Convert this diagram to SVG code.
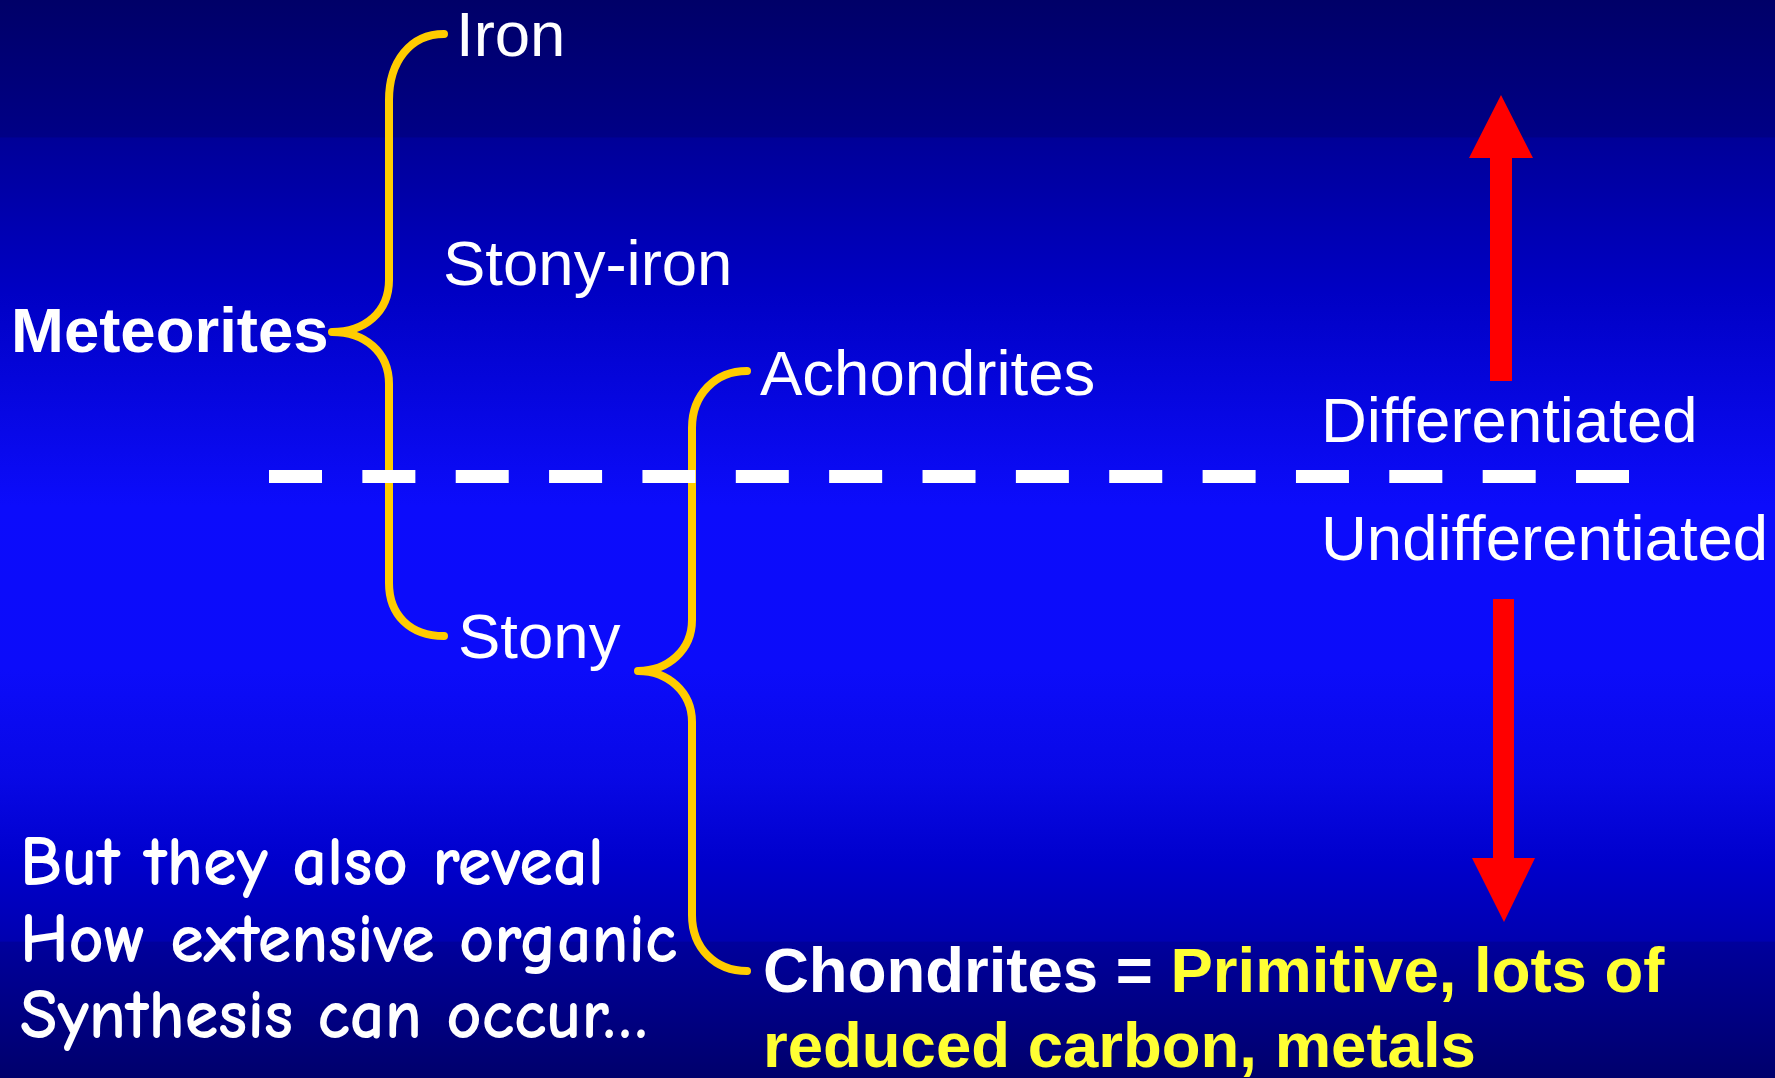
<svg xmlns="http://www.w3.org/2000/svg" width="1775" height="1078" viewBox="0 0 1775 1078">
  <defs>
    <linearGradient id="bg" x1="0" y1="0" x2="0" y2="1">
      <stop offset="0" stop-color="#000068"/>
      <stop offset="0.127" stop-color="#000086"/>
      <stop offset="0.128" stop-color="#000098"/>
      <stop offset="0.27" stop-color="#0000c4"/>
      <stop offset="0.40" stop-color="#0808e8"/>
      <stop offset="0.47" stop-color="#0c0cfc"/>
      <stop offset="0.62" stop-color="#0c0cfa"/>
      <stop offset="0.72" stop-color="#0808e6"/>
      <stop offset="0.80" stop-color="#0000cc"/>
      <stop offset="0.873" stop-color="#0000b0"/>
      <stop offset="0.874" stop-color="#00009c"/>
      <stop offset="1" stop-color="#00006c"/>
    </linearGradient>
  </defs>
  <style>
    .t { font-family: "Liberation Sans", Arial, sans-serif; font-size: 63.5px; fill: #ffffff; }
    .b { font-weight: bold; }
    .y { fill: #ffff33; }
    .c { font-family: "Comic Sans MS", "Comic Neue", "DejaVu Sans", sans-serif; font-size: 70px; font-weight: bold; fill: #ffffff; }
    .brace { fill: none; stroke: #ffcc00; stroke-width: 8; stroke-linecap: round; stroke-linejoin: round; }
    .dash { fill: none; stroke: #ffffff; stroke-width: 13; stroke-dasharray: 53 40.36; }
    .arrow { fill: #ff0000; }
  </style>
  <rect x="0" y="0" width="1775" height="1078" fill="url(#bg)"/>

  <g id="connectors">
    <path class="brace" d="M444,34 C410,34 389,62 389,100 L389,280 C389,312 365,332 332,332 C365,332 389,352 389,384 L389,583 C389,615 410,636 444,636"/>
    <path class="brace" d="M747,371 C715,371 692,395 692,428 L692,620 C692,650 668,671 638,671 C668,671 692,692 692,722 L692,915 C692,948 715,971 747,971"/>
    <line class="dash" x1="269" y1="476.5" x2="1629" y2="476.5"/>
    <polygon class="arrow" points="1501,95 1533,158 1512,158 1512,381 1490,381 1490,158 1469,158"/>
    <polygon class="arrow" points="1504,922 1535,858 1514,858 1514,599 1493,599 1493,858 1472,858"/>
  </g>

  <g id="node-meteorites"><text class="t b" x="11" y="352">Meteorites</text></g>
  <g id="node-iron"><text class="t" x="456" y="56">Iron</text></g>
  <g id="node-stony-iron"><text class="t" x="443" y="285">Stony-iron</text></g>
  <g id="node-stony"><text class="t" x="458" y="658">Stony</text></g>
  <g id="node-achondrites"><text class="t" x="760" y="395">Achondrites</text></g>
  <g id="node-chondrites">
    <text class="t b" x="763" y="992">Chondrites = <tspan class="y">Primitive, lots of</tspan></text>
    <text class="t b y" x="763" y="1067">reduced carbon, metals</text>
  </g>
  <g id="label-differentiated"><text class="t" x="1321" y="442">Differentiated</text></g>
  <g id="label-undifferentiated"><text class="t" x="1321" y="560">Undifferentiated</text></g>
  <g id="note">
    <text class="c" x="20" y="885" textLength="584" lengthAdjust="spacingAndGlyphs">But they also reveal</text>
    <text class="c" x="20" y="962" textLength="657" lengthAdjust="spacingAndGlyphs">How extensive organic</text>
    <text class="c" x="20" y="1038" textLength="628" lengthAdjust="spacingAndGlyphs">Synthesis can occur…</text>
  </g>
</svg>
